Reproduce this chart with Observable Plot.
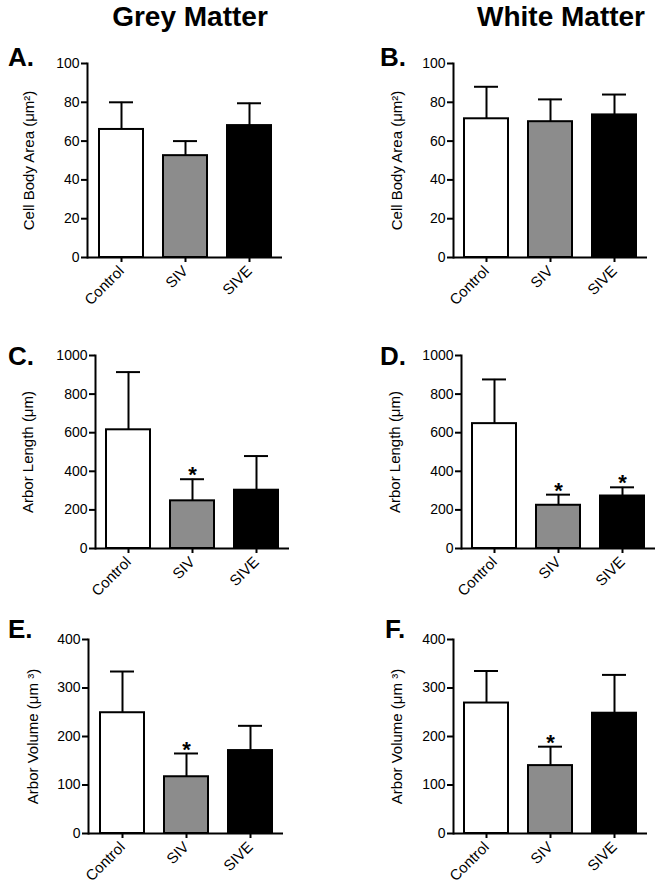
<!DOCTYPE html>
<html>
<head>
<meta charset="utf-8">
<script src="https://cdn.jsdelivr.net/npm/d3@7"></script>
<script src="https://cdn.jsdelivr.net/npm/@observablehq/plot@0.6"></script>
<style>
  html, body { margin: 0; padding: 0; background: #fff; }
  #fig { position: relative; width: 664px; height: 889px; background: #fff; overflow: hidden;
         font-family: "Liberation Sans", Arial, sans-serif; color: #000; }
  .hdr { position: absolute; font-weight: bold; font-size: 28px; line-height: 28px; white-space: nowrap; transform: translateX(-50%); }
  .lett { position: absolute; font-weight: bold; font-size: 26px; line-height: 26px; white-space: nowrap; }
  .pnl { position: absolute; }
</style>
</head>
<body>
<div id="fig"></div>
<script>
// ---- data ----
const groups = ["Control", "SIV", "SIVE"];
const fills = ["#ffffff", "#8c8c8c", "#000000"];
const columnTitles = ["Grey Matter", "White Matter"];
const panelLetters = ["A.", "B.", "C.", "D.", "E.", "F."];
const yLabels = ["Cell Body Area (μm²)", "Cell Body Area (μm²)", "Arbor Length (μm)", "Arbor Length (μm)", "Arbor Volume (μm ³)", "Arbor Volume (μm ³)"];

const meanA = [66, 52.5, 68];   const upperA = [80, 60, 79.5];  const sigA = [false, false, false];
const meanB = [71.5, 70, 73.5]; const upperB = [88, 81.5, 84];  const sigB = [false, false, false];
const meanC = [615, 247, 302];  const upperC = [914, 359, 479]; const sigC = [false, true, false];
const meanD = [647, 224, 272];  const upperD = [876, 279, 317]; const sigD = [false, true, true];
const meanE = [249, 117, 171];  const upperE = [334, 165, 222]; const sigE = [false, true, false];
const meanF = [269, 140, 248];  const upperF = [335, 179, 327]; const sigF = [false, true, false];

const ticksArea = [0, 20, 40, 60, 80, 100];
const ticksLength = [0, 200, 400, 600, 800, 1000];
const ticksVolume = [0, 100, 200, 300, 400];

// ---- layout ----
const font = '"Liberation Sans", Arial, sans-serif';
const fig = document.getElementById("fig");

function addDiv(cls, text, left, top) {
  const d = document.createElement("div");
  d.className = cls; d.textContent = text;
  d.style.left = left + "px"; d.style.top = top + "px";
  fig.appendChild(d);
}

addDiv("hdr", columnTitles[0], 190, 3);
addDiv("hdr", columnTitles[1], 561, 3);

const panels = [
  {means: meanA, uppers: upperA, sig: sigA, ticks: ticksArea,   left: 0,   top: 40,  w: 332, h: 260, mL: 87,  mR: 50, mT: 23, mB: 43, lab: 58, lx: 8,   ly: 44},
  {means: meanB, uppers: upperB, sig: sigB, ticks: ticksArea,   left: 332, top: 40,  w: 332, h: 260, mL: 121, mR: 17, mT: 23, mB: 43, lab: 56, lx: 380, ly: 44},
  {means: meanC, uppers: upperC, sig: sigC, ticks: ticksLength, left: 0,   top: 300, w: 332, h: 290, mL: 95,  mR: 43, mT: 55, mB: 42, lab: 67, lx: 8,   ly: 343},
  {means: meanD, uppers: upperD, sig: sigD, ticks: ticksLength, left: 332, top: 300, w: 332, h: 290, mL: 129, mR: 9,  mT: 55, mB: 42, lab: 66, lx: 380, ly: 343},
  {means: meanE, uppers: upperE, sig: sigE, ticks: ticksVolume, left: 0,   top: 590, w: 332, h: 299, mL: 88,  mR: 49, mT: 49, mB: 56, lab: 55, lx: 8,   ly: 616},
  {means: meanF, uppers: upperF, sig: sigF, ticks: ticksVolume, left: 332, top: 590, w: 332, h: 299, mL: 121, mR: 17, mT: 49, mB: 56, lab: 56, lx: 385, ly: 616}
];

panels.forEach((p, k) => {
  const rows = groups.map((g, i) => ({group: g, mean: p.means[i], upper: p.uppers[i], sig: p.sig[i]}));
  const chart = Plot.plot({
    width: p.w, height: p.h,
    marginLeft: p.mL, marginRight: p.mR, marginTop: p.mT, marginBottom: p.mB,
    style: {fontFamily: font, fontSize: "14px", color: "#000", background: "transparent", overflow: "visible"},
    x: {domain: groups, paddingInner: 0.32, paddingOuter: 0.17, label: null},
    y: {domain: [p.ticks[0], p.ticks[p.ticks.length - 1]], label: null},
    color: {domain: groups, range: fills},
    marks: [
      Plot.barY(rows, {x: "group", y: "mean", fill: "group", stroke: "#000", strokeWidth: 2}),
      Plot.ruleX(rows, {x: "group", y1: "mean", y2: "upper", stroke: "#000", strokeWidth: 2}),
      Plot.tickY(rows, {x: "group", y: "upper", stroke: "#000", strokeWidth: 2, insetLeft: 10, insetRight: 10}),
      Plot.text(rows.filter(d => d.sig), {x: "group", y: "upper", text: () => "*", fontSize: 22, fontWeight: "bold", lineAnchor: "middle", dy: -4}),
      Plot.ruleY([0], {stroke: "#000", strokeWidth: 2}),
      Plot.frame({anchor: "left", stroke: "#000", strokeWidth: 2}),
      Plot.axisY({ticks: p.ticks, tickSize: 6, tickPadding: 2, strokeWidth: 2, fontSize: 14, label: null, tickFormat: d => String(d)}),
      Plot.axisX({tickRotate: -45, tickSize: 5, tickPadding: 6, strokeWidth: 2, fontSize: 15, label: null}),
      Plot.text([yLabels[k]], {text: d => d, frameAnchor: "left", dx: -p.lab, rotate: -90, fontSize: 15, textAnchor: "middle", lineAnchor: "middle"})
    ]
  });
  chart.classList.add("pnl");
  chart.style.left = p.left + "px";
  chart.style.top = p.top + "px";
  fig.appendChild(chart);
  addDiv("lett", panelLetters[k], p.lx, p.ly);
});
</script>
</body>
</html>
